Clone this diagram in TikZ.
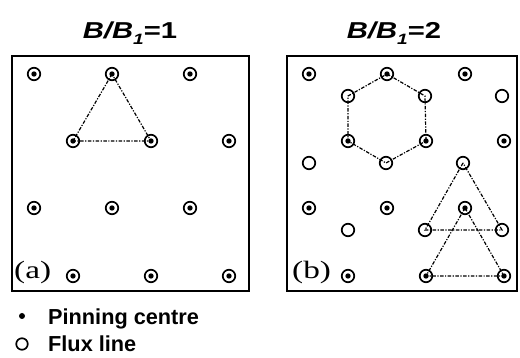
\documentclass[tikz,border=0pt]{standalone}
\usepackage{fontspec}
\setmainfont{Liberation Serif}
\setsansfont{Liberation Sans}
\tikzset{
  flux/.style={circle,draw,line width=1.7pt,minimum size=12.5pt,inner sep=0pt},
  pinned/.style={flux,path picture={\fill (path picture bounding box.center) circle (2.7pt);}},
  cell/.style={line width=1.2pt,dash pattern=on 3.5pt off 1.5pt on 1.2pt off 1.5pt},
  panel/.style={line width=2pt},
}
\newcommand{\ratiotitle}[1]{\scalebox{1.27}[1]{\fontsize{23}{23}\sffamily\bfseries
  \textit{B/B\raisebox{-0.28em}{\fontsize{15}{15}\selectfont 1}}=#1}}
\newcommand{\panelname}[1]{\scalebox{1.33}[1]{\fontsize{25}{25}\rmfamily (#1)}}
\begin{document}
\begin{tikzpicture}[x=1pt,y=-1pt]
  \useasboundingbox (0,0) rectangle (520,358);
  % frames and titles
  \draw[panel] (12,56) rectangle (249,291);
  \draw[panel] (287,56) rectangle (517,291);
  \node (ta) at (130,33) {\ratiotitle{1}};
  \node (tb) at (394,33) {\ratiotitle{2}};
  \node[anchor=base west,inner sep=0pt] (la) at (14,279) {\panelname{a}};
  \node[anchor=base west,inner sep=0pt] (lb) at (292,279) {\panelname{b}};
  % (a) one flux line on every pinning centre
  \foreach \r/\y/\x in {1/74/34, 2/141/73, 3/208/34, 4/276/73}
    \foreach \c in {0,1,2}
      \node[pinned] (a\r\c) at ({\x+78*\c},\y) {};
  \draw[cell] (a11.center) -- (a20.center) -- (a21.center) -- cycle;
  % (b) pinned lines plus interstitial lines
  \foreach \r/\y/\x in {1/74/309, 2/141/348, 3/208/309, 4/276/348}
    \foreach \c in {0,1,2}
      \node[pinned] (b\r\c) at ({\x+78*\c},\y) {};
  \foreach \r/\y/\x in {1/96/348, 2/163/309, 3/230/348}
    \foreach \c in {0,1,2}
      \node[flux] (f\r\c) at ({\x+77*\c},\y) {};
  \draw[cell] (b11.center) -- (f11.center) -- (b21.center) -- (f21.center)
    -- (b20.center) -- (f10.center) -- cycle;
  \draw[cell] (f22.center) -- (f31.center) -- (f32.center) -- cycle;
  \draw[cell] (b32.center) -- (b41.center) -- (b42.center) -- cycle;
  % legend
  \fill (22,316) circle (3pt) coordinate (pin);
  \node[flux,minimum size=11.5pt] (fl) at (22,344) {};
  \node[anchor=base west,inner sep=0pt,font=\fontsize{21.7}{22}\sffamily\bfseries] (tpin) at (48,325) {Pinning centre};
  \node[anchor=base west,inner sep=0pt,font=\fontsize{21.7}{22}\sffamily\bfseries] (tfl) at (48,352) {Flux line};
\end{tikzpicture}
\end{document}
